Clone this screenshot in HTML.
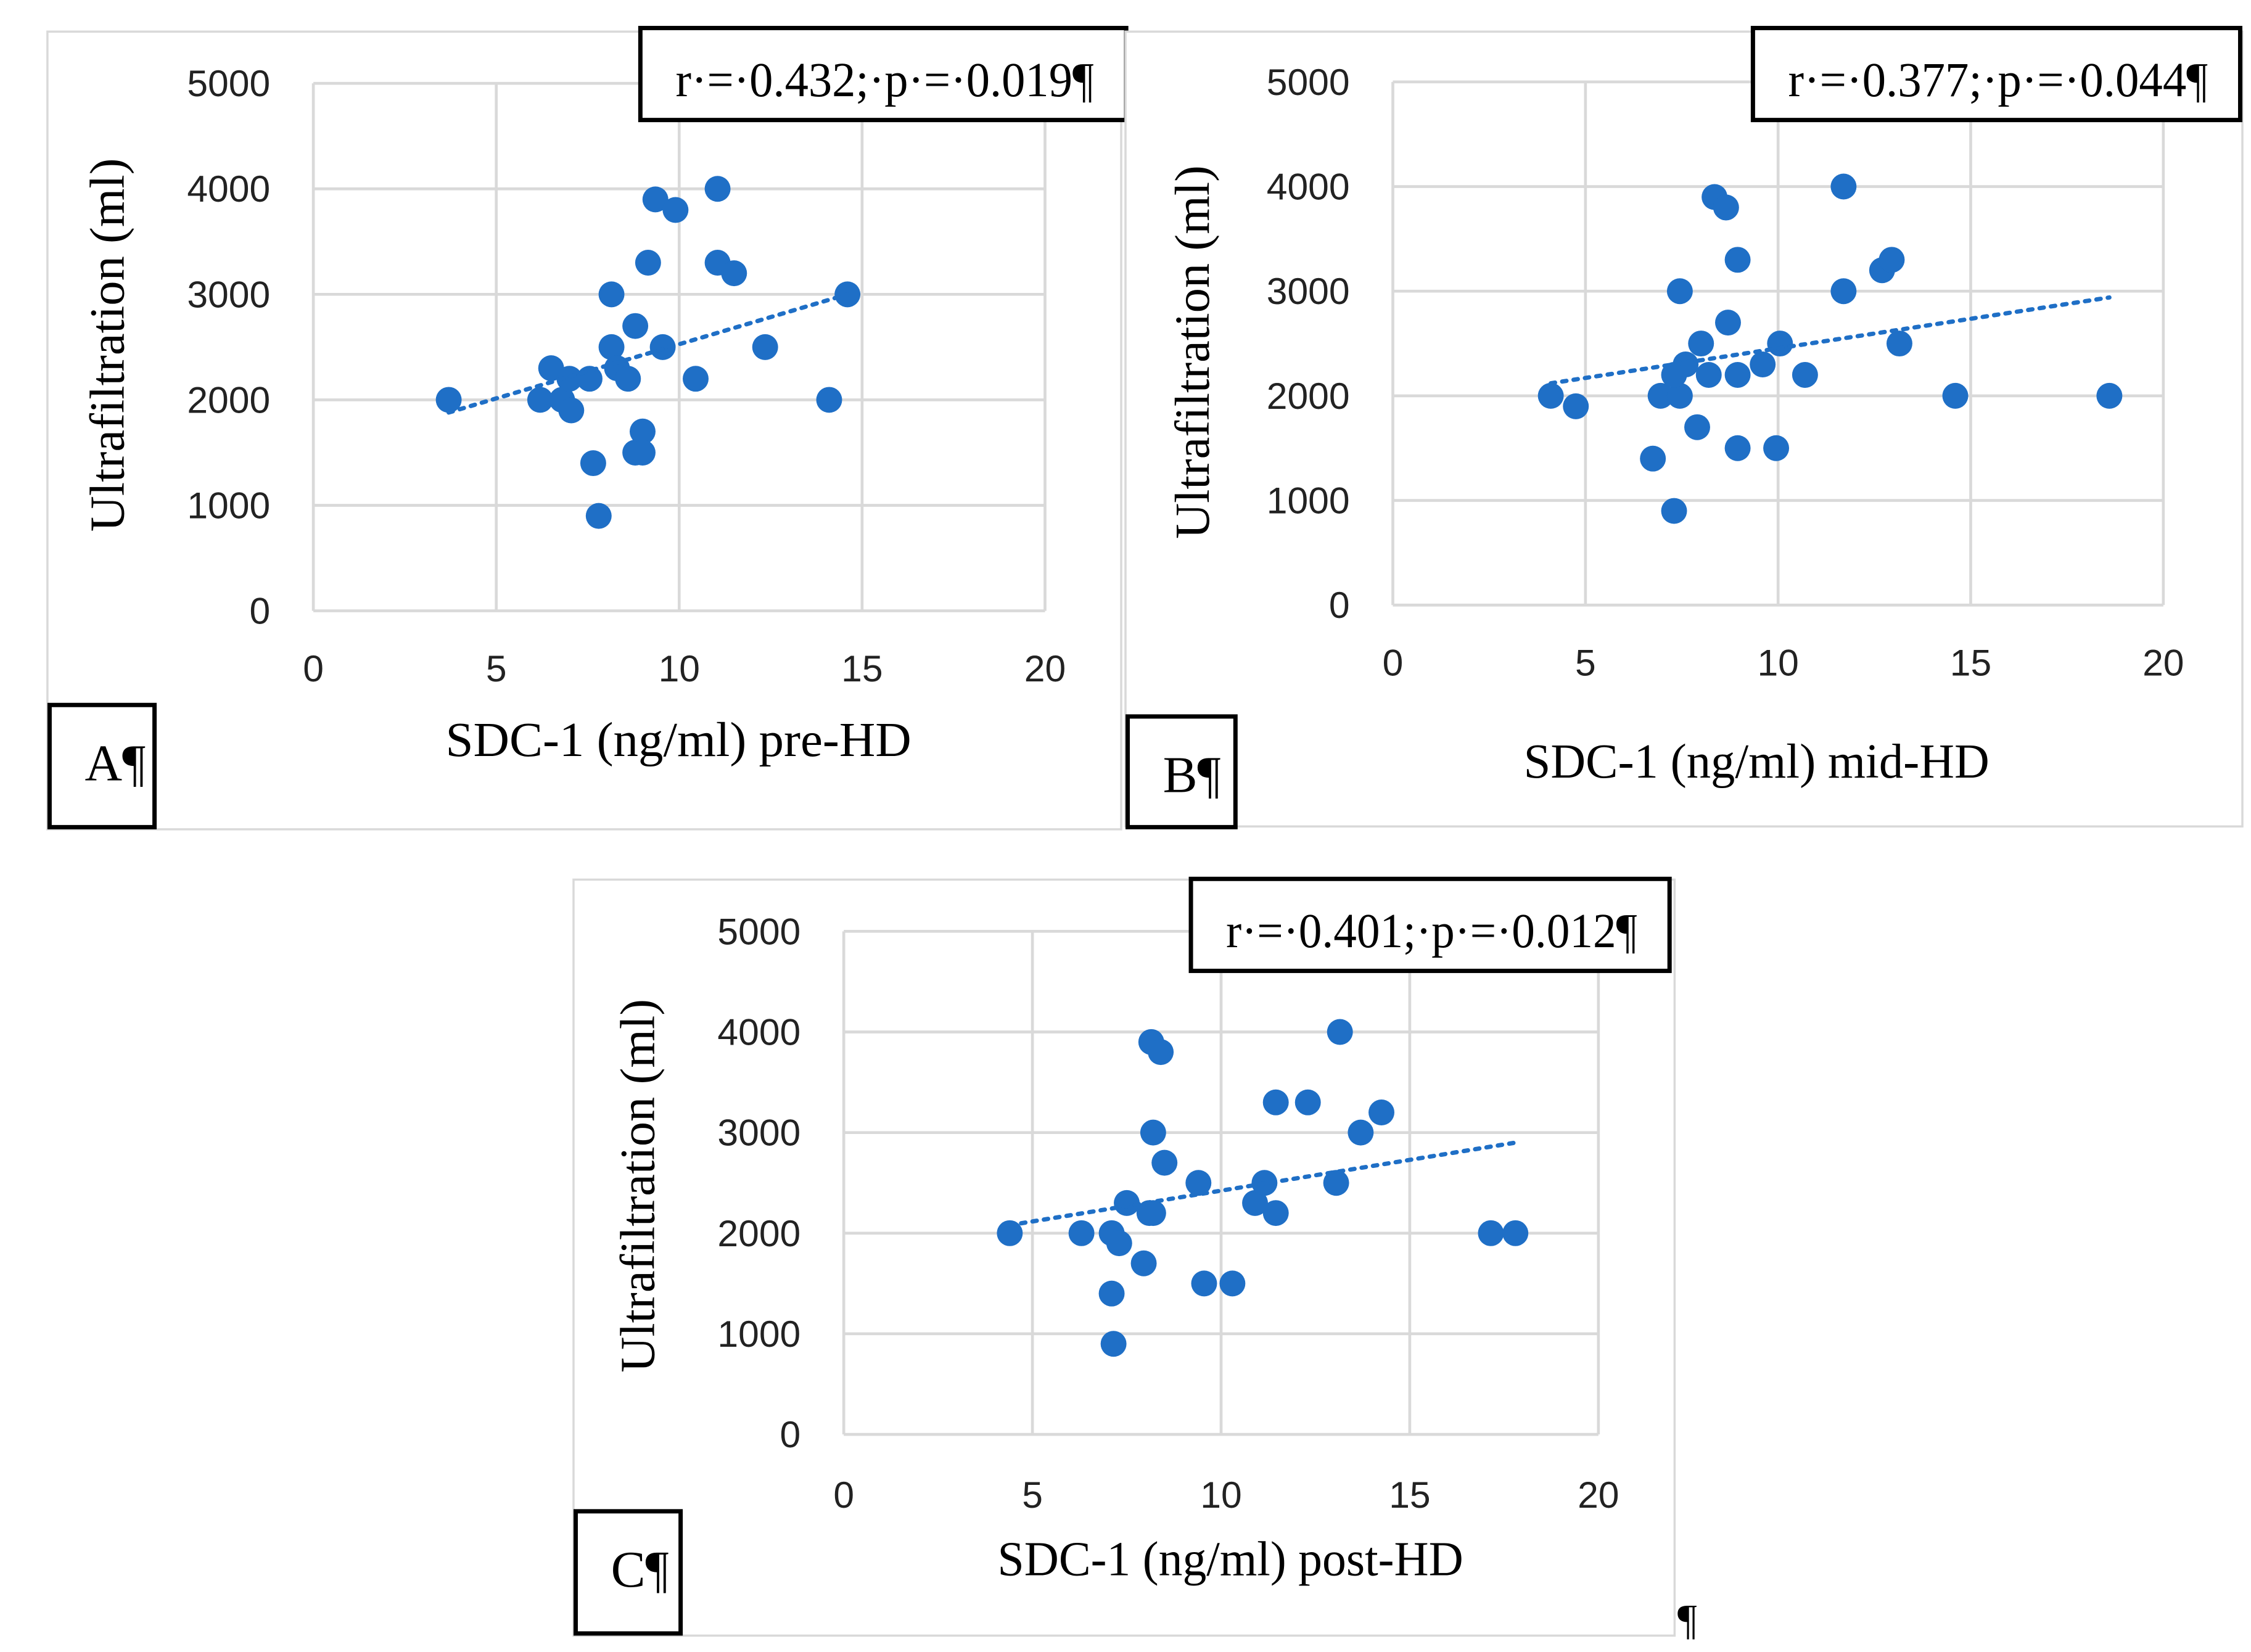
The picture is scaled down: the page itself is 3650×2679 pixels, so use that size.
<!DOCTYPE html>
<html><head><meta charset="utf-8">
<style>
html,body{margin:0;padding:0;background:#fff;}
svg{display:block;}
text{font-family:"Liberation Serif",serif;fill:#000;}
.tick{font-family:"Liberation Sans",sans-serif;font-size:26px;fill:#222;}
</style></head>
<body>
<svg id="fig" width="3650" height="2679" viewBox="0 0 1566 1149.4" xmlns="http://www.w3.org/2000/svg">
</svg>
<script>
// Panel A data (pre-HD)
const aX = [3.7,6.2,6.5,6.8,7.05,7.0,7.55,8.15,8.15,8.3,8.6,8.8,9.0,8.8,9.0,7.65,7.8,9.15,9.35,9.9,11.05,11.05,11.5,9.55,10.45,12.35,14.1,14.6];
const aY = [2000,2000,2300,2000,1900,2200,2200,3000,2500,2300,2200,2700,1700,1500,1500,1400,900,3300,3900,3800,4000,3300,3200,2500,2200,2500,2000,3000];
const aTrend = [1880,3000];
// Panel B data (mid-HD)
const bX = [4.1,4.75,6.75,6.95,7.45,7.45,7.3,7.6,7.3,7.9,8.0,8.2,8.35,8.65,8.7,8.95,8.95,8.95,9.6,9.95,10.05,10.7,11.7,11.7,12.7,12.95,13.15,14.6,18.6];
const bY = [2000,1900,1400,2000,2000,3000,2200,2300,900,1700,2500,2200,3900,3800,2700,3300,2200,1500,2300,1500,2500,2200,4000,3000,3200,3300,2500,2000,2000];
const bTrend = [2120,2940];
// Panel C data (post-HD)
const cX = [4.4,6.3,7.1,7.3,7.1,7.15,7.5,7.95,8.15,8.4,8.2,8.2,8.5,8.1,9.4,9.55,10.3,10.9,11.15,11.45,11.45,12.3,13.05,13.15,13.7,14.25,17.15,17.8];
const cY = [2000,2000,2000,1900,1400,900,2300,1700,3900,3800,3000,2200,2700,2200,2500,1500,1500,2300,2500,2200,3300,3300,2500,4000,3000,3200,2000,2000];
const cTrend = [2080,2900];
const xTicks = [0,5,10,15,20];
const yTicks = [0,1000,2000,3000,4000,5000];

const NS = "http://www.w3.org/2000/svg";
const svg = document.getElementById('fig');
function mk(tag, attrs, parent, txt){
  const e = document.createElementNS(NS, tag);
  for (const k in attrs) e.setAttribute(k, attrs[k]);
  if (txt !== undefined) e.textContent = txt;
  (parent||svg).appendChild(e);
  return e;
}

const panels = [
  {id:'a', xs:aX, ys:aY, tr:aTrend, frame:[33,22,780,577], x0:218, x1:727, y0:425, y1:58,
   rbox:[444,18,785,85], rtext:'r·=·0.432;·p·=·0.019¶', lbox:[33,489,109,577], ltext:'A¶',
   ytx:88, yty:240, xtitle:'SDC-1 (ng/ml) pre-HD', xtx:472, xty:526, xtickY:474},
  {id:'b', xs:bX, ys:bY, tr:bTrend, frame:[783,22,1560,575], x0:969, x1:1505, y0:421, y1:57,
   rbox:[1218,18,1560,85], rtext:'r·=·0.377;·p·=·0.044¶', lbox:[783,497,861,577], ltext:'B¶',
   ytx:843, yty:245, xtitle:'SDC-1 (ng/ml) mid-HD', xtx:1222, xty:541, xtickY:470},
  {id:'c', xs:cX, ys:cY, tr:cTrend, frame:[399,612,1165,1138], x0:587, x1:1112, y0:998, y1:648,
   rbox:[827,610,1163,677], rtext:'r·=·0.401;·p·=·0.012¶', lbox:[399,1050,475,1138], ltext:'C¶',
   ytx:457, yty:825, xtitle:'SDC-1 (ng/ml) post-HD', xtx:856, xty:1096, xtickY:1049}
];

panels.forEach(p => {
  const g = mk('g', {});
  
  
  const sx = v => p.x0 + (v/20)*(p.x1-p.x0);
  const sy = v => p.y0 - (v/5000)*(p.y0-p.y1);
  const f = p.frame;
  const fr = mk('rect', {x:f[0], y:f[1], width:f[2]-f[0], height:f[3]-f[1], fill:'#fff', stroke:'#d9d9d9', 'stroke-width':1.5}, g);
  
  
  yTicks.forEach(t => {
    const l = mk('line', {x1:p.x0, x2:p.x1, y1:sy(t), y2:sy(t), stroke:'#d9d9d9', 'stroke-width':2}, g);
    
    
    const tx = mk('text', {x:p.x0-30, y:sy(t)+9, 'text-anchor':'end', class:'tick'}, g, String(t));
    
    
  });
  xTicks.forEach(t => {
    const l = mk('line', {x1:sx(t), x2:sx(t), y1:p.y0, y2:p.y1, stroke:'#d9d9d9', 'stroke-width':2}, g);
    
    
    const tx = mk('text', {x:sx(t), y:p.xtickY, 'text-anchor':'middle', class:'tick'}, g, String(t));
    
    
  });
  const n = p.xs.length;
  const xmin=Math.min(...p.xs), xmax=Math.max(...p.xs);
  for (let i=0;i<n;i++){
    const c = mk('circle', {cx:sx(p.xs[i]), cy:sy(p.ys[i]), r:9, fill:'#1f6fc6'}, g);
    
    
  }
  const tl = mk('line', {x1:sx(xmin), y1:sy(p.tr[0]), x2:sx(xmax), y2:sy(p.tr[1]), stroke:'#1f6fc6', 'stroke-width':3, 'stroke-dasharray':'3 5', 'stroke-linecap':'round'}, g);
  
  
  const yt = mk('text', {x:0, y:0, 'text-anchor':'middle', 'font-size':34, textLength:260, lengthAdjust:'spacingAndGlyphs', transform:`translate(${p.ytx-2},${p.yty}) rotate(-90)`}, g, 'Ultrafiltration (ml)');
  
  
  const xt = mk('text', {x:p.xtx, y:p.xty, 'text-anchor':'middle', 'font-size':34, textLength:324, lengthAdjust:'spacingAndGlyphs'}, g, p.xtitle);
  
  
  const r = p.rbox;
  const rb = mk('rect', {x:r[0]+1.5, y:r[1]+1.5, width:r[2]-r[0]-3, height:r[3]-r[1]-3, fill:'#fff', stroke:'#000', 'stroke-width':3}, g);
  
  
  const rt = mk('text', {x:r[0]+26, y:r[1]+49, 'font-size':34, textLength:r[2]-r[0]-50, lengthAdjust:'spacingAndGlyphs'}, g, p.rtext);
  
  
  const lb = p.lbox;
  const lr = mk('rect', {x:lb[0]+1.5, y:lb[1]+1.5, width:lb[2]-lb[0]-3, height:lb[3]-lb[1]-3, fill:'#fff', stroke:'#000', 'stroke-width':3}, g);
  
  
  const lt = mk('text', {x:lb[0]+26, y:lb[1]+54, 'font-size':36}, g, p.ltext);
  
  
});
const pm = mk('text', {x:1167, y:1137, 'font-size':30}, svg, '¶');


</script>
</body></html>
